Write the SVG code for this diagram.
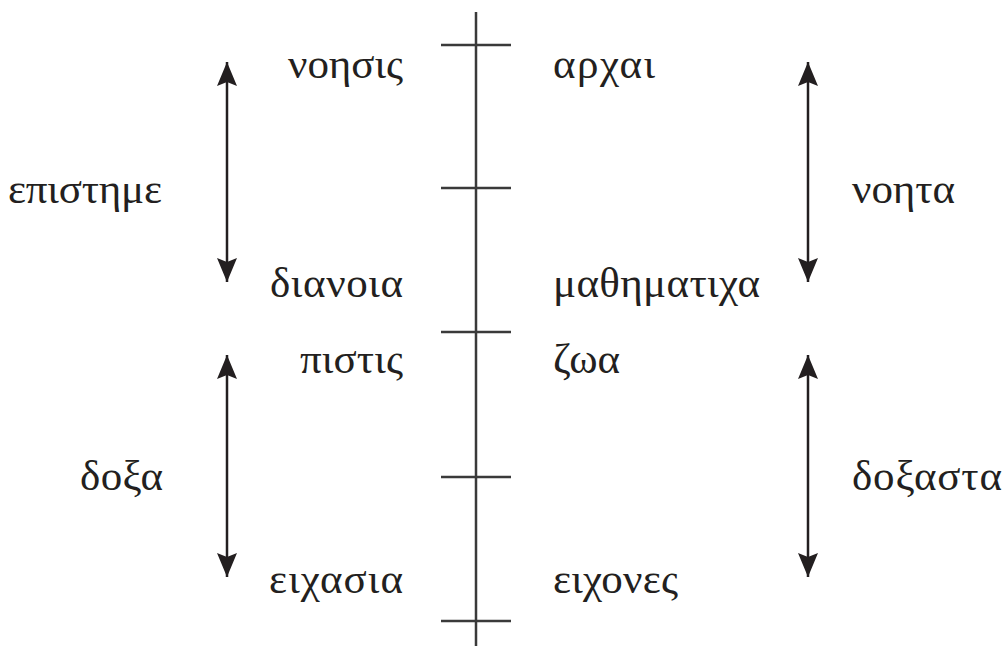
<svg xmlns="http://www.w3.org/2000/svg" width="1003" height="646" viewBox="0 0 1003 646">
<defs>
<marker id="ah2" viewBox="0 0 24 20" refX="24" refY="10" markerWidth="24" markerHeight="20" markerUnits="userSpaceOnUse" orient="auto-start-reverse">
<path d="M0,0 L24,10 L0,20 L4,10 Z" fill="#231f20"/>
</marker>
<style>
text{font-family:"Liberation Serif","DejaVu Serif",serif;font-size:43px;fill:#231f20}
.l{text-anchor:end}
.ax{stroke:#3a3a3a;stroke-width:2.5;fill:none}
.arr{stroke:#231f20;stroke-width:2.5;fill:none;marker-start:url(#ah2);marker-end:url(#ah2)}
</style>
</defs>
<rect width="1003" height="646" fill="#ffffff"/>
<g id="connectors">
<line class="ax" x1="476" y1="12" x2="476" y2="646"/>
<line class="ax" x1="441" y1="45" x2="511" y2="45"/>
<line class="ax" x1="441" y1="188" x2="511" y2="188"/>
<line class="ax" x1="441" y1="332" x2="511" y2="332"/>
<line class="ax" x1="441" y1="477" x2="511" y2="477"/>
<line class="ax" x1="441" y1="621" x2="511" y2="621"/>
<line class="arr" x1="227" y1="62" x2="227" y2="282"/>
<line class="arr" x1="227" y1="355" x2="227" y2="577"/>
<line class="arr" x1="808" y1="62" x2="808" y2="282"/>
<line class="arr" x1="808" y1="355" x2="808" y2="577"/>
</g>
<g id="noesis"><text class="l" x="403" y="78" textLength="115">νοησις</text></g>
<g id="archai"><text x="553" y="78" textLength="102">αρχαι</text></g>
<g id="episteme"><text x="8" y="203" textLength="154">επιστημε</text></g>
<g id="noeta"><text x="852" y="203" textLength="103">νοητα</text></g>
<g id="dianoia"><text class="l" x="403" y="297" textLength="133">διανοια</text></g>
<g id="mathematicha"><text x="553" y="297" textLength="207">μαθηματιχα</text></g>
<g id="pistis"><text class="l" x="403" y="373" textLength="103">πιστις</text></g>
<g id="zoa"><text x="553" y="373" textLength="67">ζωα</text></g>
<g id="doxa"><text x="80" y="490" textLength="83">δοξα</text></g>
<g id="doxasta"><text x="852" y="490" textLength="150">δοξαστα</text></g>
<g id="eikasia"><text class="l" x="403" y="593" textLength="134">ειχασια</text></g>
<g id="eikones"><text x="553" y="593" textLength="125">ειχονες</text></g>
</svg>
